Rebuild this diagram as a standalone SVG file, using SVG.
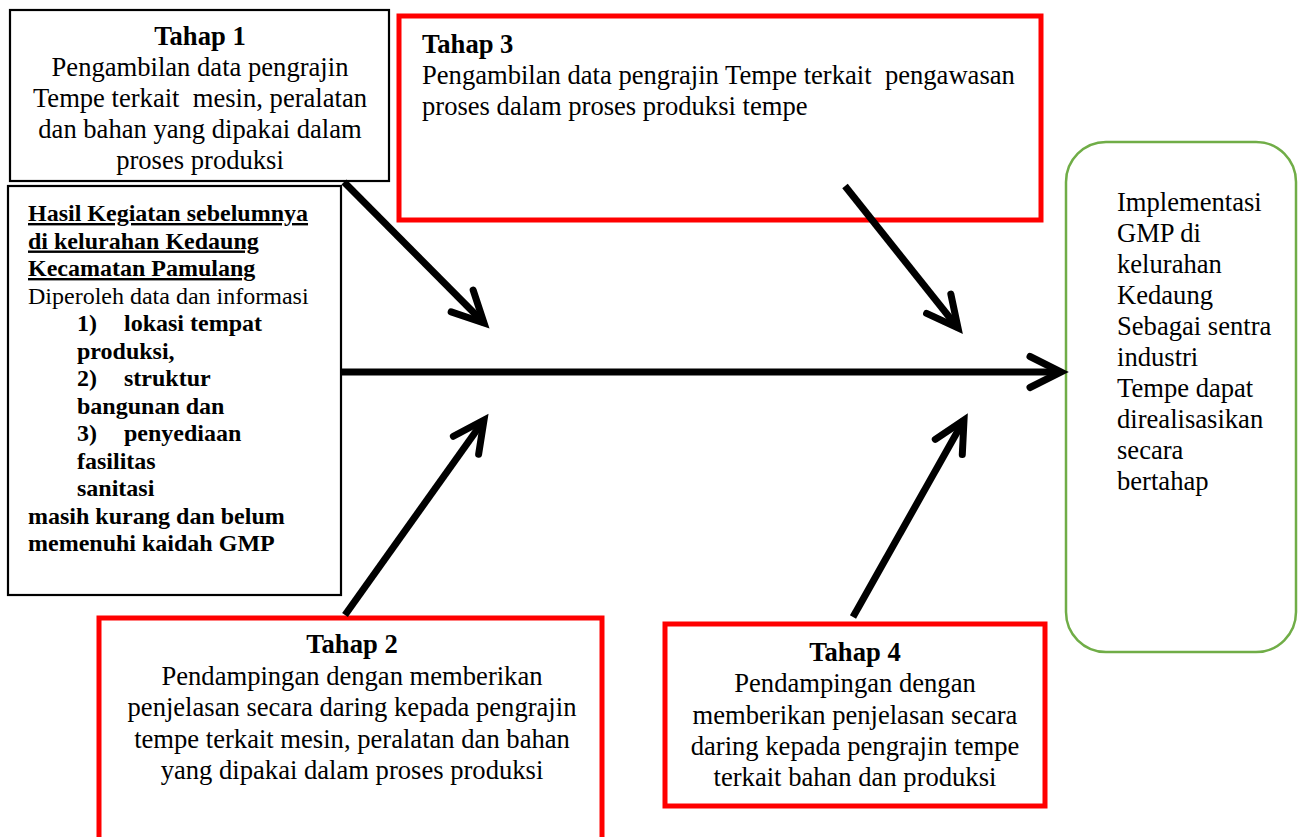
<svg xmlns="http://www.w3.org/2000/svg" width="1298" height="837" viewBox="0 0 1298 837">
  <style>
    text { font-family: "Liberation Serif", "Times New Roman", serif; fill: #000; }
    .t { font-size: 26.6px; }
    .s { font-size: 24px; }
    .b { font-weight: bold; }
    .c { text-anchor: middle; }
    .u { text-decoration: underline; }
    .blk { fill: #fff; stroke: #000; stroke-width: 2.2; }
    .red { fill: #fff; stroke: #ff0000; stroke-width: 5; }
    .grn { fill: #fff; stroke: #70ad47; stroke-width: 2.5; }
    .conn { fill: none; stroke: #000; stroke-width: 7; stroke-linecap: butt; }
  </style>
  <defs>
    <marker id="arr" markerUnits="userSpaceOnUse" viewBox="-40 -25 50 50" refX="0" refY="0" markerWidth="50" markerHeight="50" orient="auto" overflow="visible">
      <path d="M-31,-15.5 L0,0 L-31,15.5" fill="none" stroke="#000" stroke-width="7" stroke-linecap="round" stroke-linejoin="miter"/>
    </marker>
  </defs>
  <rect width="1298" height="837" fill="#fff"/>

  <g id="tahap1">
    <rect class="blk" x="10" y="10" width="379" height="171"/>
    <text class="t b c" x="200" y="45">Tahap 1</text>
    <text class="t c" x="200" y="76">Pengambilan data pengrajin</text>
    <text class="t c" x="200" y="107" xml:space="preserve">Tempe terkait  mesin, peralatan</text>
    <text class="t c" x="200" y="138">dan bahan yang dipakai dalam</text>
    <text class="t c" x="200" y="169">proses produksi</text>
  </g>

  <g id="hasil">
    <rect class="blk" x="8" y="186" width="333" height="409"/>
    <text class="s b u" x="28" y="221">Hasil Kegiatan sebelumnya</text>
    <text class="s b u" x="28" y="248.5">di kelurahan Kedaung</text>
    <text class="s b u" x="28" y="276">Kecamatan Pamulang</text>
    <text class="s" x="28" y="303.5">Diperoleh data dan informasi</text>
    <text class="s b" x="77" y="331">1)</text>
    <text class="s b" x="124" y="331">lokasi tempat</text>
    <text class="s b" x="77" y="358.5">produksi,</text>
    <text class="s b" x="77" y="386">2)</text>
    <text class="s b" x="124" y="386">struktur</text>
    <text class="s b" x="77" y="413.5">bangunan dan</text>
    <text class="s b" x="77" y="441">3)</text>
    <text class="s b" x="124" y="441">penyediaan</text>
    <text class="s b" x="77" y="468.5">fasilitas</text>
    <text class="s b" x="77" y="496">sanitasi</text>
    <text class="s b" x="28" y="523.5">masih kurang dan belum</text>
    <text class="s b" x="28" y="551">memenuhi kaidah GMP</text>
  </g>

  <g id="tahap3">
    <rect class="red" x="399" y="16" width="642" height="204"/>
    <text class="t b" x="422" y="53">Tahap 3</text>
    <text class="t" x="422" y="84" xml:space="preserve">Pengambilan data pengrajin Tempe terkait  pengawasan</text>
    <text class="t" x="422" y="115">proses dalam proses produksi tempe</text>
  </g>

  <g id="tahap2">
    <rect class="red" x="99" y="618" width="503" height="240"/>
    <text class="t b c" x="352" y="653">Tahap 2</text>
    <text class="t c" x="352" y="685">Pendampingan dengan memberikan</text>
    <text class="t c" x="352" y="716">penjelasan secara daring kepada pengrajin</text>
    <text class="t c" x="352" y="748">tempe terkait mesin, peralatan dan bahan</text>
    <text class="t c" x="352" y="779">yang dipakai dalam proses produksi</text>
  </g>

  <g id="tahap4">
    <rect class="red" x="665" y="624" width="380" height="182"/>
    <text class="t b c" x="855" y="661">Tahap 4</text>
    <text class="t c" x="855" y="692">Pendampingan dengan</text>
    <text class="t c" x="855" y="724">memberikan penjelasan secara</text>
    <text class="t c" x="855" y="755">daring kepada pengrajin tempe</text>
    <text class="t c" x="855" y="786">terkait bahan dan produksi</text>
  </g>

  <g id="hasil-akhir">
    <rect class="grn" x="1066" y="142" width="230" height="510" rx="40" ry="40"/>
    <text class="t" x="1117" y="211">Implementasi</text>
    <text class="t" x="1117" y="242">GMP di</text>
    <text class="t" x="1117" y="273">kelurahan</text>
    <text class="t" x="1117" y="304">Kedaung</text>
    <text class="t" x="1117" y="335">Sebagai sentra</text>
    <text class="t" x="1117" y="366">industri</text>
    <text class="t" x="1117" y="397">Tempe dapat</text>
    <text class="t" x="1117" y="428">direalisasikan</text>
    <text class="t" x="1117" y="459">secara</text>
    <text class="t" x="1117" y="490">bertahap</text>
  </g>

  <g id="connectors">
    <line class="conn" x1="342" y1="372" x2="1061" y2="372" marker-end="url(#arr)"/>
    <line class="conn" x1="344" y1="182" x2="484" y2="323" marker-end="url(#arr)"/>
    <line class="conn" x1="845" y1="186" x2="958" y2="328" marker-end="url(#arr)"/>
    <line class="conn" x1="345" y1="615" x2="484" y2="420" marker-end="url(#arr)"/>
    <line class="conn" x1="853" y1="617" x2="964" y2="420" marker-end="url(#arr)"/>
  </g>
</svg>
